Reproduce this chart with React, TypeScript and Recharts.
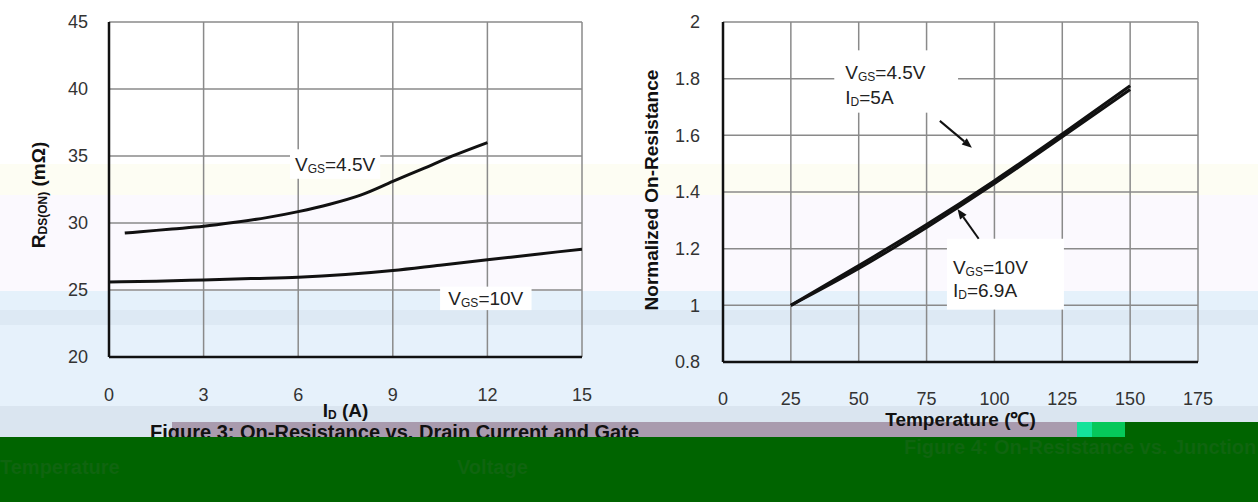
import React from "react"
import { LineChart, Line, XAxis, YAxis, CartesianGrid, ReferenceArea, ReferenceLine } from "recharts"

const FONT = '"Liberation Sans", Arial, Helvetica, sans-serif'

// Figure 3: on-resistance vs drain current (two gate voltages)
const currentTicks = [0, 3, 6, 9, 12, 15]
const rdsTicks = [20, 25, 30, 35, 40, 45]
const current45 = [0.5, 1, 2, 3, 4, 5, 6, 7, 8, 9, 10, 11, 12]
const rds45 = [29.25, 29.35, 29.55, 29.75, 30.05, 30.4, 30.85, 31.4, 32.1, 33.1, 34.1, 35.1, 36.0]
const current10 = [0, 1.5, 3, 4.5, 6, 7.5, 9, 10.5, 12, 13.5, 15]
const rds10 = [25.6, 25.65, 25.75, 25.85, 25.95, 26.15, 26.45, 26.85, 27.25, 27.65, 28.05]

// Figure 4: normalized on-resistance vs junction temperature
const tempTicks = [0, 25, 50, 75, 100, 125, 150, 175]
const normTicks = [0.8, 1, 1.2, 1.4, 1.6, 1.8, 2]
const temperature = [25, 50, 75, 100, 125, 150]
const norm45 = [1.0, 1.14, 1.285, 1.44, 1.605, 1.775]
const norm10 = [1.0, 1.13, 1.275, 1.43, 1.595, 1.762]

const toPoints = (xs: number[], ys: number[]) => xs.map((x, i) => ({ x, y: ys[i] }))

const tickStyle = { fontSize: 18, fill: "#333", fontFamily: FONT }
const axisLineStyle = { stroke: "#111", strokeWidth: 2.5 }

type Part = { t: string; sub?: boolean }

const renderParts = (parts: Part[]) => {
  let down = false
  return parts.map((p, i) => {
    let dy = 0
    if (p.sub && !down) { dy = 5; down = true }
    else if (!p.sub && down) { dy = -5; down = false }
    return (
      <tspan key={i} dy={dy} fontSize={p.sub ? 12 : undefined}>{p.t}</tspan>
    )
  })
}

const AxisTitle = (props: any) => {
  const vb = props.viewBox || { x: 0, y: 0, width: 0, height: 0 }
  const cx = props.vertical ? vb.x + props.dx : vb.x + vb.width / 2
  const cy = props.vertical ? props.cy : vb.y + props.dy
  return (
    <text
      x={cx}
      y={cy}
      textAnchor="middle"
      dominantBaseline="central"
      fontFamily={FONT}
      fontWeight="bold"
      fontSize={19}
      fill="#111"
      transform={props.vertical ? `rotate(-90, ${cx}, ${cy})` : undefined}
    >
      {renderParts(props.parts)}
    </text>
  )
}

// white box behind an annotation, with its text lines
const NoteBox = (props: any) => {
  const { x, y, width, height, lines, center, padX, lineYs } = props
  return (
    <g>
      <rect x={x} y={y} width={width} height={height} fill="#fff" />
      {lines.map((parts: Part[], i: number) => (
        <text
          key={i}
          x={center ? x + width / 2 : x + padX}
          y={center ? y + height / 2 : y + lineYs[i]}
          textAnchor={center ? "middle" : "start"}
          dominantBaseline="central"
          fontFamily={FONT}
          fontSize={19}
          fill="#222"
        >
          {renderParts(parts)}
        </text>
      ))}
    </g>
  )
}

const Arrow = (props: any) => {
  const { x1, y1, x2, y2 } = props
  const ang = Math.atan2(y2 - y1, x2 - x1)
  const len = 10
  const w = 4
  const bx = x2 - len * Math.cos(ang)
  const by = y2 - len * Math.sin(ang)
  const px = -Math.sin(ang) * w
  const py = Math.cos(ang) * w
  return (
    <g>
      <line x1={x1} y1={y1} x2={bx} y2={by} stroke="#111" strokeWidth={2} />
      <polygon points={`${x2},${y2} ${bx + px},${by + py} ${bx - px},${by - py}`} fill="#111" />
    </g>
  )
}

const vgs45: Part[] = [{ t: "V" }, { t: "GS", sub: true }, { t: "=4.5V" }]
const vgs10: Part[] = [{ t: "V" }, { t: "GS", sub: true }, { t: "=10V" }]

function CurrentChart() {
  return (
    <LineChart width={610} height={440} margin={{ top: 22, right: 28, left: 0, bottom: 0 }}>
      <CartesianGrid stroke="#8a8a8a" strokeWidth={1.5} />
      <XAxis
        type="number"
        dataKey="x"
        domain={[0, 15]}
        ticks={currentTicks}
        interval={0}
        allowDataOverflow
        tickLine={false}
        tickSize={0}
        tickMargin={31}
        axisLine={axisLineStyle}
        tick={tickStyle}
        height={83}
        label={<AxisTitle dy={53} parts={[{ t: "I" }, { t: "D", sub: true }, { t: " (A)" }]} />}
      />
      <YAxis
        type="number"
        domain={[20, 45]}
        ticks={rdsTicks}
        interval={0}
        allowDataOverflow
        tickLine={false}
        tickSize={0}
        tickMargin={21}
        axisLine={axisLineStyle}
        tick={tickStyle}
        width={109}
        label={
          <AxisTitle
            vertical
            dx={38}
            cy={195}
            parts={[{ t: "R" }, { t: "DS(ON)", sub: true }, { t: " (mΩ)" }]}
          />
        }
      />
      <ReferenceArea
        x1={5.74}
        x2={8.6}
        y1={33.3}
        y2={35.5}
        ifOverflow="visible"
        shape={(p: any) => <NoteBox {...p} center lines={[vgs45]} />}
      />
      <ReferenceArea
        x1={10.5}
        x2={13.4}
        y1={23.5}
        y2={25.25}
        ifOverflow="visible"
        shape={(p: any) => <NoteBox {...p} center lines={[vgs10]} />}
      />
      <Line
        data={toPoints(current45, rds45)}
        dataKey="y"
        type="monotone"
        stroke="#111"
        strokeWidth={3}
        dot={false}
        isAnimationActive={false}
      />
      <Line
        data={toPoints(current10, rds10)}
        dataKey="y"
        type="monotone"
        stroke="#111"
        strokeWidth={3}
        dot={false}
        isAnimationActive={false}
      />
    </LineChart>
  )
}

function TemperatureChart() {
  return (
    <LineChart width={620} height={440} margin={{ top: 22, right: 32, left: 0, bottom: 0 }}>
      <CartesianGrid stroke="#8a8a8a" strokeWidth={1.5} />
      <XAxis
        type="number"
        dataKey="x"
        domain={[0, 175]}
        ticks={tempTicks}
        interval={0}
        allowDataOverflow
        tickLine={false}
        tickSize={0}
        tickMargin={30}
        axisLine={axisLineStyle}
        tick={tickStyle}
        height={78}
        label={<AxisTitle dy={57} parts={[{ t: "Temperature (℃)" }]} />}
      />
      <YAxis
        type="number"
        domain={[0.8, 2]}
        ticks={normTicks}
        interval={0}
        allowDataOverflow
        tickLine={false}
        tickSize={0}
        tickMargin={23}
        axisLine={axisLineStyle}
        tick={tickStyle}
        width={113}
        label={<AxisTitle vertical dx={41} cy={190} parts={[{ t: "Normalized On-Resistance" }]} />}
      />
      <ReferenceArea
        x1={41}
        x2={86.6}
        y1={1.68}
        y2={1.9}
        ifOverflow="visible"
        shape={(p: any) => (
          <NoteBox
            {...p}
            padX={11}
            lineYs={[22, 47]}
            lines={[vgs45, [{ t: "I" }, { t: "D", sub: true }, { t: "=5A" }]]}
          />
        )}
      />
      <ReferenceArea
        x1={82.5}
        x2={125.6}
        y1={0.985}
        y2={1.235}
        ifOverflow="visible"
        shape={(p: any) => (
          <NoteBox
            {...p}
            padX={6}
            lineYs={[28, 51]}
            lines={[vgs10, [{ t: "I" }, { t: "D", sub: true }, { t: "=6.9A" }]]}
          />
        )}
      />
      <ReferenceLine
        segment={[{ x: 79.9, y: 1.651 }, { x: 91.7, y: 1.556 }]}
        ifOverflow="visible"
        shape={(p: any) => <Arrow {...p} />}
      />
      <ReferenceLine
        segment={[{ x: 94.2, y: 1.235 }, { x: 86.4, y: 1.34 }]}
        ifOverflow="visible"
        shape={(p: any) => <Arrow {...p} />}
      />
      <Line
        data={toPoints(temperature, norm45)}
        dataKey="y"
        type="monotone"
        stroke="#111"
        strokeWidth={3}
        dot={false}
        isAnimationActive={false}
      />
      <Line
        data={toPoints(temperature, norm10)}
        dataKey="y"
        type="monotone"
        stroke="#111"
        strokeWidth={3}
        dot={false}
        isAnimationActive={false}
      />
    </LineChart>
  )
}

const band = (top: number, height: number, color: string, left = 0, width = 1258) => (
  <div style={{ position: "absolute", top, left, width, height, background: color }} />
)

const captionStyle: React.CSSProperties = {
  position: "absolute",
  fontFamily: FONT,
  fontWeight: "bold",
  fontSize: 20,
  lineHeight: "16px",
  whiteSpace: "nowrap",
}

export default function App() {
  return (
    <div style={{ position: "fixed", top: 0, left: 0, width: 1258, height: 502, background: "#fff", overflow: "hidden" }}>
      {band(164, 31, "#fdfdf3")}
      {band(195, 96, "#fbf9fe")}
      {band(291, 19, "#e5f1fb")}
      {band(310, 15, "#dde9f4")}
      {band(325, 81, "#e6f1fb")}
      {band(406, 31, "#dae5f0")}
      {band(422, 15, "#a99bae", 172, 905)}
      {band(422, 15, "#14e39a", 1077, 15)}
      {band(422, 15, "#06c85a", 1092, 33)}
      {band(422, 15, "#006400", 1125, 133)}
      <div style={{ position: "absolute", left: 0, top: 0, zIndex: 1 }}>
        <CurrentChart />
      </div>
      <div style={{ position: "absolute", left: 610, top: 0, zIndex: 1 }}>
        <TemperatureChart />
      </div>
      <div style={{ ...captionStyle, left: 150, top: 424, color: "#111", zIndex: 2 }}>
        Figure 3: On-Resistance vs. Drain Current and Gate
      </div>
      <div style={{ position: "absolute", left: 0, top: 437, width: 1258, height: 65, background: "#006400", zIndex: 3 }}>
        <div style={{ ...captionStyle, left: 904, top: 2, color: "#0f650f" }}>Figure 4: On-Resistance vs. Junction</div>
        <div style={{ ...captionStyle, left: 0, top: 22, color: "#0f650f" }}>Temperature</div>
        <div style={{ ...captionStyle, left: 457, top: 22, color: "#0f650f" }}>Voltage</div>
      </div>
    </div>
  )
}
